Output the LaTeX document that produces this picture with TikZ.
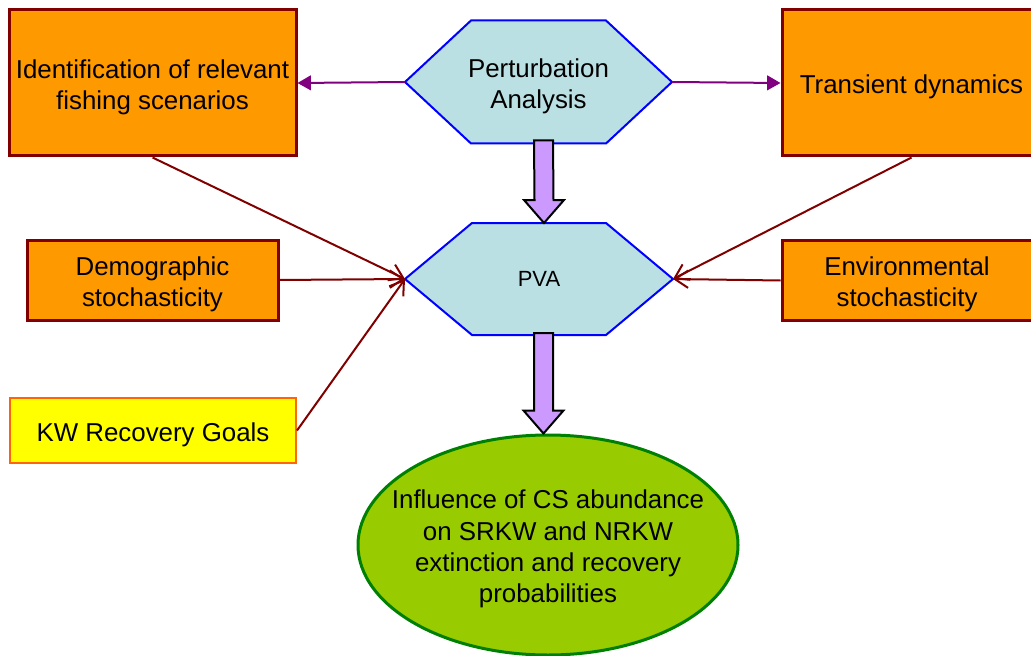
\documentclass[tikz,border=0pt]{standalone}
\usepackage{fontspec}
\setmainfont{Liberation Sans}
\usepackage{xcolor}
\usetikzlibrary{arrows.meta,positioning,shapes.geometric,calc,backgrounds}

\definecolor{boxorange}{HTML}{FF9900}
\definecolor{boxline}{HTML}{800000}
\definecolor{hexfill}{HTML}{BBE0E3}
\definecolor{hexline}{HTML}{0000FF}
\definecolor{goalfill}{HTML}{FFFF00}
\definecolor{goalline}{HTML}{FF6600}
\definecolor{outfill}{HTML}{99CC00}
\definecolor{outgreen}{HTML}{008000}
\definecolor{linkpurple}{HTML}{800080}
\definecolor{fatfill}{HTML}{CC99FF}

% taller first line, so the text sits a little lower in its shape
\newcommand\lift{\rule{0pt}{20.2pt}}

\begin{document}
\begin{tikzpicture}[
  x=0.75pt, y=-0.75pt,
  every node/.style={font=\fontsize{19.4}{23.5}\selectfont, align=center, inner sep=2pt},
  box/.style={draw=boxline, line width=2.25pt, fill=boxorange},
  goalbox/.style={draw=goalline, line width=1.5pt, fill=goalfill, minimum width=214.5pt, minimum height=48.75pt},
  hexa/.style={inner sep=0pt, outer sep=0pt},
  hexline/.style={draw=hexline, line width=1.5pt, fill=hexfill, line join=miter},
  outcome/.style={ellipse, draw=outgreen, line width=2.25pt, fill=outfill, minimum width=285pt, minimum height=165pt, inner xsep=-20pt, inner ysep=0pt},
  arr/.style={-{Straight Barb[length=10pt,width=13pt]}, draw=boxline, line width=1.5pt},
  parr/.style={-{Triangle[length=10pt,width=11pt]}, draw=linkpurple, line width=1.5pt},
  fatarr/.style={draw=black, line width=1.5pt, fill=fatfill, line join=miter,
    to path={($(\tikztostart)+(-9.5,0)$) -- ($(\tikztotarget)+(-9.5,-23)$) -- ($(\tikztotarget)+(-20,-23)$) -- (\tikztotarget) -- ($(\tikztotarget)+(20,-23)$) -- ($(\tikztotarget)+(9.5,-23)$) -- ($(\tikztostart)+(9.5,0)$) -- cycle}}
]
\clip (0,0) rectangle (1031,656);

\node[box, minimum width=215.25pt, minimum height=109.5pt] (fish) at (152.5,83) {\lift Identification of relevant\\fishing scenarios};
\node[hexa, minimum width=200.25pt, minimum height=92.25pt] (pert) at (538.5,82) {\lift Perturbation\\Analysis};
\node[box, minimum width=194.25pt, minimum height=109.5pt] (trans) at (911.5,83) {\lift Transient dynamics};
\node[box, minimum width=188.25pt, minimum height=60pt] (demo) at (152.5,280) {\lift Demographic\\stochasticity};
\node[hexa, minimum width=201pt, minimum height=84pt, font=\fontsize{16.5}{20}\selectfont] (pva) at (539,279) {PVA};
\node[box, minimum width=187.5pt, minimum height=60pt] (env) at (907,280.5) {\lift Environmental\\stochasticity};
\node[goalbox] (goals) at (153,430.5) {\lift KW Recovery Goals};
\node[outcome] (infl) at (548,545) {\lift Influence of CS abundance\\on SRKW and NRKW\\extinction and recovery\\probabilities};

% hexagons behind the two analysis nodes
\begin{scope}[on background layer]
  \draw[hexline] (pert.west) -- ([xshift=49.5pt]pert.north west) -- ([xshift=-49.5pt]pert.north east)
    -- (pert.east) -- ([xshift=-49.5pt]pert.south east) -- ([xshift=49.5pt]pert.south west) -- cycle;
  \draw[hexline] (pva.west) -- ([xshift=50.25pt]pva.north west) -- ([xshift=-50.25pt]pva.north east)
    -- (pva.east) -- ([xshift=-50.25pt]pva.south east) -- ([xshift=50.25pt]pva.south west) -- cycle;
\end{scope}

\draw[parr] (pert.west) -- (fish.east);
\draw[parr] (pert.east) -- (trans.west);
\draw[arr] (fish.south) -- (pva.west);
\draw[arr] (demo.east) -- (pva.west);
\draw[arr] (goals.east) -- (pva.west);
\draw[arr] (trans.south) -- (pva.east);
\draw[arr] (env.west) -- (pva.east);

\coordinate (f1a) at ($(pert.south)+(5,-3)$);
\coordinate (f1b) at ($(pva.north)+(5,0)$);
\coordinate (f2a) at ($(pva.south)+(4.5,-2)$);
\coordinate (f2b) at ($(infl.north)+(-4.5,0)$);
\draw[fatarr] (f1a) to (f1b);
\draw[fatarr] (f2a) to (f2b);
\end{tikzpicture}
\end{document}
